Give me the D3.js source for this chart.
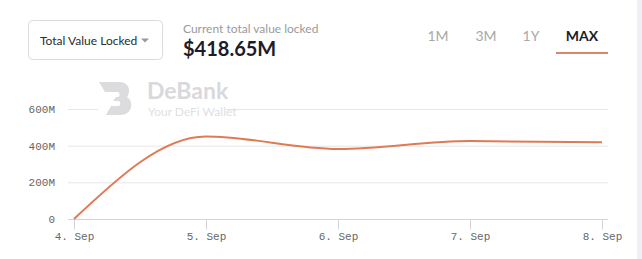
<!DOCTYPE html>
<html>
<head>
<meta charset="utf-8">
<script src="https://cdn.jsdelivr.net/npm/d3@7"></script>
<style>
  body { margin: 0; background: #fff; }
  svg { display: block; }
</style>
</head>
<body>
<script>
// tvl series, values in millions USD
var days = ["2020-09-04", "2020-09-05", "2020-09-06", "2020-09-07", "2020-09-08"];
var tvl = [0, 450, 382, 425, 418.65];
var yTicks = [0, 200, 400, 600];
var tabs = ["1M", "3M", "1Y", "MAX"];
var tabX = [438, 486, 531, 582];

var W = 642, H = 259;
var parse = d3.timeParse("%Y-%m-%d");
var data = days.map(function(d, i) { return {date: parse(d), value: tvl[i]}; });

var svg = d3.select("body").append("svg")
    .attr("width", W)
    .attr("height", H);

// page strip on the right
svg.append("rect").attr("x", 637).attr("y", 0).attr("width", 5).attr("height", H).attr("fill", "#eef0f6");

// header: dropdown
svg.append("rect")
    .attr("x", 28.5).attr("y", 20.5).attr("width", 134).attr("height", 39).attr("rx", 4)
    .attr("fill", "#fff").attr("stroke", "#dcdcdc");
svg.append("text")
    .attr("x", 40).attr("y", 45)
    .style("font", "12px Lato").attr("fill", "#2b2b2b")
    .text("Total Value Locked");
svg.append("path").attr("d", "M141,38.5 L149,38.5 L145,42.5 Z").attr("fill", "#999");

svg.append("text")
    .attr("x", 183).attr("y", 33)
    .style("font", "12px Lato").attr("fill", "#9a9a9a")
    .text("Current total value locked");
svg.append("text")
    .attr("x", 183).attr("y", 56)
    .style("font", "bold 20px Lato").attr("fill", "#1c1c2b")
    .text("$418.65M");

// range tabs
svg.selectAll(".tab")
  .data(tabs)
  .enter().append("text")
    .attr("class", "tab")
    .attr("x", function(d, i) { return tabX[i]; })
    .attr("y", 41)
    .attr("text-anchor", "middle")
    .style("font", function(d) { return d == "MAX" ? "bold 14px Lato" : "14px Lato"; })
    .attr("fill", function(d) { return d == "MAX" ? "#1c1c2b" : "#a8a8a8"; })
    .text(function(d) { return d; });
svg.append("rect").attr("x", 556).attr("y", 52).attr("width", 52).attr("height", 2).attr("fill", "#d4876d");

// chart
var x = d3.scaleTime().domain([data[0].date, data[data.length - 1].date]).range([74, 602]);
var y = d3.scaleLinear().domain([0, 600]).range([219, 109]);

var grid = svg.append("g");
grid.selectAll("line")
  .data(yTicks)
  .enter().append("line")
    .attr("x1", 68).attr("x2", 608)
    .attr("y1", function(d) { return y(d) + 0.5; })
    .attr("y2", function(d) { return y(d) + 0.5; })
    .attr("stroke", function(d) { return d == 0 ? "#d4d4d8" : "#e6e6e6"; });

// watermark
var wm = svg.append("g");
wm.append("rect").attr("x", 98).attr("y", 104).attr("width", 128).attr("height", 12).attr("fill", "#fff");
wm.append("path")
    .attr("d", "M99,82 L119,82 C128,82 132,90 127,97 C134,101 133,115 120,115 L106,115 L111,106 L118,106 C121,106 121,101 118,101 L113,101 L116,97 L118,97 C120,97 120,92 118,92 L105,92 Z")
    .attr("fill", "#dcdcdf");
wm.append("text")
    .attr("x", 147).attr("y", 99)
    .style("font", "bold 23px Lato").attr("fill", "#d9d9dd")
    .text("DeBank");
wm.append("text")
    .attr("x", 148).attr("y", 116)
    .style("font", "12px Lato").attr("fill", "#e0e0e3")
    .text("Your DeFi Wallet");

// y labels
svg.append("g").selectAll("text")
  .data(yTicks)
  .enter().append("text")
    .attr("x", 55)
    .attr("y", function(d) { return y(d) + 4; })
    .attr("text-anchor", "end")
    .style("font", "11px 'Courier New', 'Liberation Mono', monospace")
    .attr("fill", "#666")
    .text(function(d) { return d == 0 ? "0" : d + "M"; });

// x axis
var xAxis = svg.append("g")
    .attr("transform", "translate(0,219.5)")
    .call(d3.axisBottom(x).ticks(d3.timeDay.every(1)).tickFormat(d3.timeFormat("%-d. %b")).tickSize(10).tickPadding(3));
xAxis.select(".domain").remove();
xAxis.selectAll("line").attr("stroke", "#d4d4d8");
xAxis.selectAll("text")
    .style("font", "11px 'Courier New', 'Liberation Mono', monospace")
    .attr("fill", "#666");

var line = d3.line()
    .x(function(d) { return x(d.date); })
    .y(function(d) { return y(d.value); })
    .curve(d3.curveMonotoneX);

svg.append("path")
    .datum(data)
    .attr("fill", "none")
    .attr("stroke", "#e07a55")
    .attr("stroke-width", 2)
    .attr("d", line);
</script>
</body>
</html>
